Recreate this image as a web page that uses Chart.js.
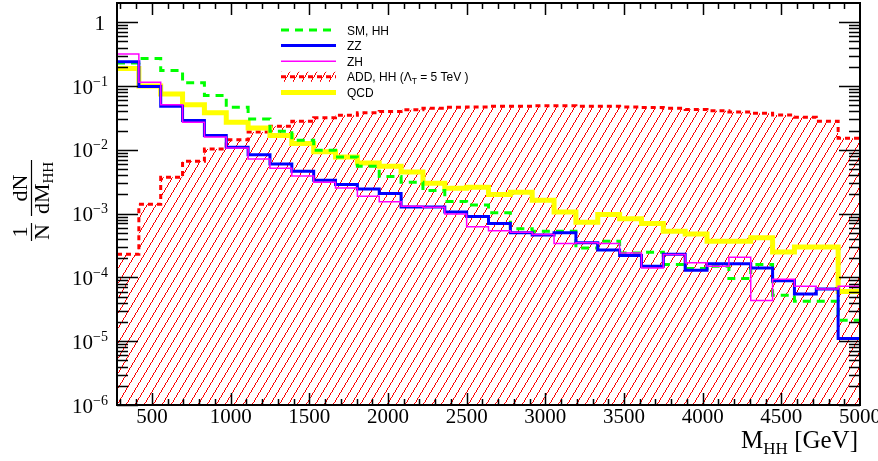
<!DOCTYPE html>
<html>
<head>
<meta charset="utf-8">
<script src="https://cdn.jsdelivr.net/npm/chart.js@4/dist/chart.umd.min.js"></script>
<style>
html,body{margin:0;padding:0;background:#ffffff;}
#wrap{width:878px;height:461px;position:relative;}
</style>
</head>
<body>
<div id="wrap"><canvas id="c" width="878" height="461"></canvas></div>
<script>
// ---------------- data ----------------
const X_MIN = 277.8, X_MAX = 5000, N_BINS = 34;   // histogram binning (GeV)
const Y_MIN = 1e-6, Y_MAX = 2;

const legendLabels = ['SM, HH', 'ZZ', 'ZH', 'ADD, HH', 'QCD'];

const smHH = [0.23, 0.27, 0.175, 0.112, 0.071, 0.0465, 0.0305, 0.0196, 0.0141, 0.0098,
  0.0077, 0.0055, 0.0038, 0.0031, 0.0023, 0.00155, 0.00136, 0.00103, 0.00058, 0.00053,
  0.00053, 0.00029, 0.00037, 0.000242, 0.000247, 0.000159, 0.000138, 0.00015, 0.0000962, 0.000159,
  0.0000526, 0.0000424, 0.0000424, 0.0000213];

const zz = [0.239, 0.098, 0.048, 0.0288, 0.0168, 0.011, 0.0084, 0.0060, 0.0046, 0.00334,
  0.00287, 0.00244, 0.00206, 0.00127, 0.00127, 0.00106, 0.0009, 0.0007, 0.0005, 0.00046,
  0.0005, 0.00035, 0.00027, 0.00022, 0.00015, 0.00023, 0.00013, 0.000163, 0.000163, 0.000141,
  0.000089, 0.000055, 0.000066, 0.000011];

const zh = [0.318, 0.115, 0.051, 0.027, 0.0159, 0.0107, 0.0072, 0.00515, 0.0039, 0.0031,
  0.00253, 0.00187, 0.00153, 0.0013, 0.00126, 0.00099, 0.00062, 0.00054, 0.00051, 0.00047,
  0.00034, 0.00035, 0.00034, 0.000242, 0.000141, 0.000229, 0.000169, 0.00015, 0.000207, 0.0000434,
  0.0000937, 0.0000727, 0.000066, 0.0000727];

const addHH = [0.00023, 0.0014, 0.0037, 0.0066, 0.0103, 0.0144, 0.019, 0.0234, 0.028, 0.0318,
  0.0348, 0.038, 0.040, 0.0425, 0.045, 0.0464, 0.047, 0.048, 0.048, 0.049,
  0.049, 0.048, 0.048, 0.047, 0.046, 0.045, 0.043, 0.041, 0.039, 0.0375,
  0.035, 0.0323, 0.028, 0.0152];

const qcd = [0.188, 0.1, 0.075, 0.051, 0.038, 0.027, 0.022, 0.0168, 0.0125, 0.0093,
  0.0077, 0.0062, 0.0055, 0.0045, 0.003, 0.0025, 0.0026, 0.002, 0.00216, 0.00162,
  0.00106, 0.00073, 0.00097, 0.00083, 0.0007, 0.00053, 0.00048, 0.00037, 0.00037, 0.00042,
  0.00025, 0.0003, 0.0003, 0.00006];

const xTickValues = [500, 1000, 1500, 2000, 2500, 3000, 3500, 4000, 4500, 5000];
const xTickLabels = ['500', '1000', '1500', '2000', '2500', '3000', '3500', '4000', '4500', '5000'];
const yTickExponents = [-6, -5, -4, -3, -2, -1, 0];

// ---------------- helpers ----------------
function histPoints(values) {
  const w = (X_MAX - X_MIN) / N_BINS;
  const pts = [];
  values.forEach((v, i) => {
    pts.push({x: X_MIN + i * w, y: v});
    pts.push({x: X_MIN + (i + 1) * w, y: v});
  });
  return pts;
}

const canvas = document.getElementById('c');
const mainCtx = canvas.getContext('2d');

// crisp one-pixel "/" hatching (ROOT fill style 3004 look)
function makeHatch() {
  const W = 9, H = 15;
  const c = document.createElement('canvas');
  c.width = W; c.height = H;
  const g = c.getContext('2d');
  g.fillStyle = '#ff0000';
  for (let y = 0; y < H; y++) {
    const x = Math.floor((H - 0.5 - y) * W / H);
    g.fillRect(x, y, 1, 1);
  }
  return mainCtx.createPattern(c, 'repeat');
}
const hatch = makeHatch();

const SERIF = '"Liberation Serif", "Times New Roman", serif';
const SANS = '"Liberation Sans", Arial, sans-serif';

// ---------------- axes, labels, legend (ROOT style) ----------------
const rootStyle = {
  id: 'rootStyle',
  afterDraw(chart) {
    const ctx = chart.ctx, a = chart.chartArea;
    const xs = chart.scales.x, ys = chart.scales.y;
    ctx.save();
    ctx.strokeStyle = '#000';
    ctx.fillStyle = '#000';

    // tick marks (inward, all four sides)
    ctx.lineWidth = 1.5;
    ctx.beginPath();
    for (let v = 100; v < X_MAX; v += 100) {
      if (v <= X_MIN) continue;
      const major = xTickValues.includes(v);
      const len = major ? 12 : 6;
      const x = Math.round(xs.getPixelForValue(v)) + 0.5;
      ctx.moveTo(x, a.bottom); ctx.lineTo(x, a.bottom - len);
      ctx.moveTo(x, a.top); ctx.lineTo(x, a.top + len);
    }
    yTickExponents.forEach(e => {
      for (let k = 1; k <= 9; k++) {
        const v = k * Math.pow(10, e);
        if (v >= Y_MAX || v < Y_MIN) continue;
        const len = k === 1 ? 21 : 11;
        const y = Math.round(ys.getPixelForValue(v)) + 0.5;
        ctx.moveTo(a.left, y); ctx.lineTo(a.left + len, y);
        ctx.moveTo(a.right, y); ctx.lineTo(a.right - len, y);
      }
    });
    ctx.stroke();

    // frame
    ctx.lineWidth = 2;
    ctx.strokeRect(a.left, a.top, a.right - a.left, a.bottom - a.top);

    // x tick labels
    ctx.font = '21px ' + SERIF;
    ctx.textAlign = 'center';
    ctx.textBaseline = 'alphabetic';
    xTickValues.forEach((v, i) => {
      ctx.fillText(xTickLabels[i], xs.getPixelForValue(v), a.bottom + 18);
    });

    // y tick labels
    const rightX = a.left - 9;
    yTickExponents.forEach(e => {
      const y = ys.getPixelForValue(Math.pow(10, e));
      const base = y + 7.5;
      if (e === 0) {
        ctx.font = '21px ' + SERIF;
        ctx.textAlign = 'right';
        ctx.fillText('1', rightX - 3, base);
        return;
      }
      const sup = '\u2212' + Math.abs(e);
      ctx.font = '14px ' + SERIF;
      const sw = ctx.measureText(sup).width;
      ctx.textAlign = 'right';
      ctx.fillText(sup, rightX, base - 8);
      ctx.font = '21px ' + SERIF;
      ctx.fillText('10', rightX - sw, base);
    });

    // x axis title  M_HH [GeV]
    {
      const base = 448;
      ctx.textAlign = 'left';
      ctx.font = '25px ' + SERIF;
      const wM = ctx.measureText('M').width;
      const wRest = ctx.measureText(' [GeV]').width;
      ctx.font = '17px ' + SERIF;
      const wSub = ctx.measureText('HH').width;
      let x0 = 858 - (wM + wSub + wRest);
      ctx.font = '25px ' + SERIF;
      ctx.fillText('M', x0, base);
      ctx.font = '17px ' + SERIF;
      ctx.fillText('HH', x0 + wM, base + 6);
      ctx.font = '25px ' + SERIF;
      ctx.fillText(' [GeV]', x0 + wM + wSub, base);
    }

    // y axis title  1/N dN/dM_HH (rotated)
    {
      ctx.save();
      ctx.translate(31, 200);
      ctx.rotate(-Math.PI / 2);
      ctx.lineWidth = 1.2;
      ctx.textAlign = 'center';
      ctx.textBaseline = 'alphabetic';
      ctx.font = '22px ' + SERIF;
      ctx.fillText('1', -32, -4);
      ctx.fillText('N', -32, 18);
      ctx.beginPath(); ctx.moveTo(-41, 0.5); ctx.lineTo(-23, 0.5); ctx.stroke();
      ctx.fillText('dN', 12, -4);
      ctx.beginPath(); ctx.moveTo(-16, 0.5); ctx.lineTo(40, 0.5); ctx.stroke();
      const wdM = ctx.measureText('dM').width;
      ctx.font = '15px ' + SERIF;
      const wHH = ctx.measureText('HH').width;
      const start = 12 - (wdM + wHH) / 2;
      ctx.textAlign = 'left';
      ctx.font = '22px ' + SERIF;
      ctx.fillText('dM', start, 18);
      ctx.font = '15px ' + SERIF;
      ctx.fillText('HH', start + wdM, 22);
      ctx.restore();
    }

    // legend
    {
      const rows = [30, 45.6, 61.2, 76.8, 92.4];
      const x0 = 281, x1 = 336, tx = 347;
      const byLabel = {};
      chart.data.datasets.forEach(d => { byLabel[d.label] = d; });
      legendLabels.forEach((lab, i) => {
        const d = byLabel[lab];
        const y = rows[i];
        ctx.save();
        if (lab === 'ADD, HH') {
          ctx.fillStyle = hatch;
          ctx.fillRect(x0, y - 5, x1 - x0, 10);
        }
        ctx.strokeStyle = d.borderColor;
        ctx.lineWidth = d.borderWidth;
        ctx.setLineDash(d.borderDash || []);
        ctx.beginPath();
        ctx.moveTo(x0, y); ctx.lineTo(x1, y);
        ctx.stroke();
        ctx.restore();
        ctx.fillStyle = '#000';
        ctx.textAlign = 'left';
        ctx.textBaseline = 'alphabetic';
        ctx.font = '12px ' + SANS;
        if (lab === 'ADD, HH') {
          let x = tx;
          const p1 = 'ADD, HH (\u039B';
          ctx.fillText(p1, x, y + 4.5);
          x += ctx.measureText(p1).width;
          ctx.font = '8.5px ' + SANS;
          ctx.fillText('T', x, y + 7);
          x += ctx.measureText('T').width;
          ctx.font = '12px ' + SANS;
          ctx.fillText(' = 5 TeV )', x, y + 4.5);
        } else {
          ctx.fillText(lab, tx, y + 4.5);
        }
      });
    }
    ctx.restore();
  }
};

// ---------------- chart ----------------
new Chart(mainCtx, {
  type: 'line',
  data: {
    datasets: [
      {label: 'ZH', data: histPoints(zh), borderColor: '#ff00ff', borderWidth: 1.5, fill: false},
      {label: 'ZZ', data: histPoints(zz), borderColor: '#0000ff', borderWidth: 3, fill: false},
      {label: 'SM, HH', data: histPoints(smHH), borderColor: '#00ff00', borderWidth: 3, borderDash: [8, 6], fill: false},
      {label: 'QCD', data: histPoints(qcd), borderColor: '#ffff00', borderWidth: 5, fill: false},
      {label: 'ADD, HH', data: histPoints(addHH), borderColor: '#ff0000', borderWidth: 3, borderDash: [5, 4],
        fill: 'start', backgroundColor: hatch}
    ]
  },
  options: {
    responsive: false,
    animation: false,
    devicePixelRatio: 1,
    layout: {padding: {left: 117, right: 18, top: 3, bottom: 56}},
    elements: {
      point: {radius: 0, hoverRadius: 0},
      line: {tension: 0, borderJoinStyle: 'miter', borderCapStyle: 'butt'}
    },
    scales: {
      x: {type: 'linear', min: X_MIN, max: X_MAX, display: false},
      y: {type: 'logarithmic', min: Y_MIN, max: Y_MAX, display: false}
    },
    plugins: {
      legend: {display: false},
      tooltip: {enabled: false}
    }
  },
  plugins: [rootStyle]
});
</script>
</body>
</html>
